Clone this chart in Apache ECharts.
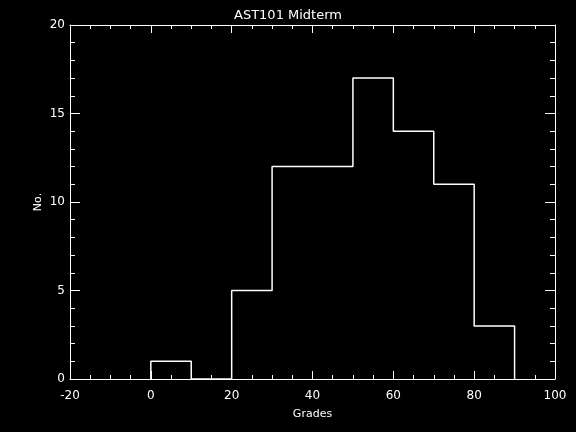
<!DOCTYPE html>
<html><head><meta charset="utf-8">
<script src="https://cdn.jsdelivr.net/npm/echarts@6/dist/echarts.min.js"></script>
<style>html,body{margin:0;padding:0;background:#000;}#c{width:576px;height:432px;}</style>
</head><body><div id="c"></div>
<script>
const binStarts = [0, 10, 20, 30, 40, 50, 60, 70, 80];
const binWidth = 10;
const counts = [1, 0, 5, 12, 12, 17, 14, 11, 3];
const xTicks = [-20, 0, 20, 40, 60, 80, 100];
const yTicks = [0, 5, 10, 15, 20];

const stepData = [[binStarts[0], 0]];
binStarts.forEach((b, i) => stepData.push([b, counts[i]]));
const lastEdge = binStarts[binStarts.length - 1] + binWidth;
stepData.push([lastEdge, counts[counts.length - 1]]);
stepData.push([lastEdge, 0]);

const font = 'DejaVu Sans';
const col = '#ffffff';
function xAx(pos, labels) {
  return {
    type: 'value', position: pos, min: -20, max: 100, interval: 20,
    axisLine: {show: true, onZero: false, lineStyle: {color: col, width: 1}},
    axisTick: {show: true, inside: true, length: 8, lineStyle: {color: col}},
    minorTick: {show: true, splitNumber: 4, length: 4, lineStyle: {color: col}},
    splitLine: {show: false},
    axisLabel: {show: labels, color: col, fontFamily: font, fontSize: 12, margin: 11},
    name: labels ? 'Grades' : '', nameLocation: 'middle', nameGap: 30,
    nameMoveOverlap: false,
    nameTextStyle: {color: col, fontFamily: font, fontSize: 11}
  };
}
function yAx(pos, labels) {
  return {
    type: 'value', position: pos, min: 0, max: 20, interval: 5,
    axisLine: {show: true, onZero: false, lineStyle: {color: col, width: 1}},
    axisTick: {show: true, inside: true, length: 10, lineStyle: {color: col}},
    minorTick: {show: true, splitNumber: 5, length: 5, lineStyle: {color: col}},
    splitLine: {show: false},
    axisLabel: {show: labels, color: col, fontFamily: font, fontSize: 12, margin: 5},
    name: labels ? 'No.' : '', nameLocation: 'middle', nameGap: 26, nameRotate: 90,
    nameMoveOverlap: false,
    nameTextStyle: {color: col, fontFamily: font, fontSize: 11}
  };
}
const chart = echarts.init(document.getElementById('c'), null, {renderer: 'canvas'});
chart.setOption({
  backgroundColor: '#000',
  animation: false,
  title: {text: 'AST101 Midterm', left: 'center', top: 4,
    textStyle: {color: col, fontFamily: font, fontSize: 13, fontWeight: 'normal'}},
  grid: {left: 70, right: 21, top: 25, bottom: 53},
  xAxis: [xAx('bottom', true), xAx('top', false)],
  yAxis: [yAx('left', true), yAx('right', false)],
  series: [{
    type: 'line', step: 'end', data: stepData, symbol: 'none',
    lineStyle: {color: col, width: 1.5}, xAxisIndex: 0, yAxisIndex: 0
  }]
});
</script></body></html>
